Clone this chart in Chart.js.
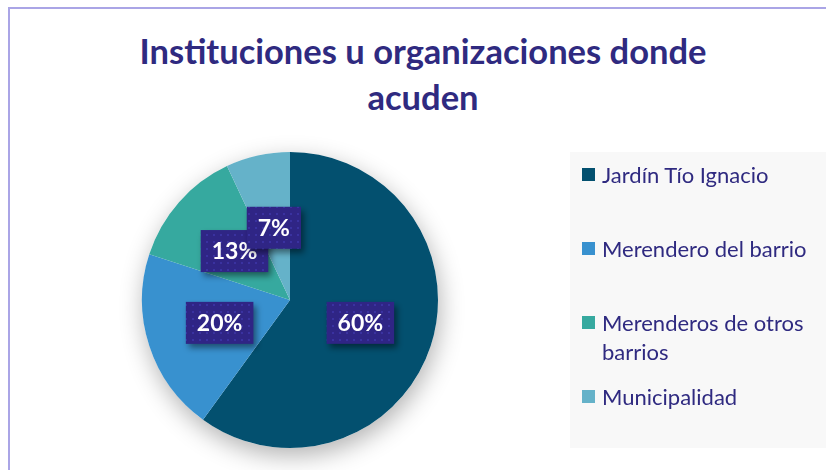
<!DOCTYPE html>
<html>
<head>
<meta charset="utf-8">
<script src="https://cdn.jsdelivr.net/npm/chart.js@4.4.1/dist/chart.umd.min.js"></script>
<style>
  html, body { margin: 0; padding: 0; background: #fff; }
  body { width: 826px; height: 470px; position: relative; overflow: hidden; font-family: Lato, "Open Sans", sans-serif; }
  .frame { position: absolute; left: 8px; top: 7px; width: 900px; height: 500px; border-left: 2px solid #aaa5e6; border-top: 2px solid #aaa5e6; }
  #chart { position: absolute; left: 0; top: 0; }
  .title { position: absolute; left: 20px; right: 0; top: 28px; text-align: center; font-weight: bold; font-size: 34.5px; line-height: 46px; color: #2f2a80; }
  .legend { position: absolute; left: 570px; top: 152px; width: 256px; height: 296px; background: #f8f8f8; }
  .legend .item { position: relative; height: 74px; padding-left: 32px; box-sizing: border-box; font-size: 22px; line-height: 29px; color: #2f2a80; padding-right: 4px; }
  .legend .item:first-child { margin-top: 8px; }
  .legend .box { position: absolute; left: 12px; top: 8px; width: 13px; height: 13px; }
</style>
</head>
<body>
<div class="frame"></div>
<div class="title">Instituciones u organizaciones donde<br>acuden</div>
<canvas id="chart" width="826" height="470"></canvas>
<div class="legend" id="legend"></div>
<script>
const categories = ['Jardín Tío Ignacio', 'Merendero del barrio', 'Merenderos de otros barrios', 'Municipalidad'];
const shares = [60, 20, 13, 7];
const sliceColors = ['#03506f', '#3891cf', '#36a99f', '#65b2c9'];

// shadow behind the whole pie
const pieShadow = {
  id: 'pieShadow',
  beforeDatasetsDraw(chart) {
    const arc = chart.getDatasetMeta(0).data[0];
    if (!arc) return;
    const ctx = chart.ctx;
    ctx.save();
    ctx.shadowColor = 'rgba(0,0,0,0.3)';
    ctx.shadowBlur = 24;
    ctx.shadowOffsetX = 2;
    ctx.shadowOffsetY = 8;
    ctx.fillStyle = '#fff';
    ctx.beginPath();
    ctx.arc(arc.x, arc.y, arc.outerRadius, 0, Math.PI * 2);
    ctx.fill();
    ctx.restore();
  }
};

// percent boxes on each slice
const sliceLabels = {
  id: 'sliceLabels',
  afterDatasetsDraw(chart) {
    const ctx = chart.ctx;
    const meta = chart.getDatasetMeta(0);
    const dots = document.createElement('canvas');
    dots.width = 7; dots.height = 7;
    const dctx = dots.getContext('2d');
    dctx.fillStyle = '#2f2585';
    dctx.fillRect(0, 0, 7, 7);
    dctx.fillStyle = '#3a32a0';
    dctx.fillRect(3, 3, 2, 2);
    const pattern = ctx.createPattern(dots, 'repeat');

    ctx.save();
    ctx.font = 'bold 23px Lato';
    ctx.textAlign = 'center';
    ctx.textBaseline = 'middle';
    meta.data.forEach((arc, i) => {
      const p = arc.tooltipPosition();
      const txt = shares[i] + '%';
      const w = ctx.measureText(txt).width + 22;
      const h = 42;
      ctx.save();
      ctx.shadowColor = 'rgba(0,0,0,0.45)';
      ctx.shadowBlur = 6;
      ctx.shadowOffsetX = 3;
      ctx.shadowOffsetY = 4;
      ctx.fillStyle = pattern;
      ctx.fillRect(p.x - w / 2, p.y - h / 2, w, h);
      ctx.restore();
      ctx.fillStyle = '#fff';
      ctx.fillText(txt, p.x, p.y + 1);
    });
    ctx.restore();
  }
};

const chart = new Chart(document.getElementById('chart'), {
  type: 'pie',
  data: {
    labels: categories,
    datasets: [{
      data: shares,
      backgroundColor: sliceColors,
      borderWidth: 0
    }]
  },
  options: {
    responsive: false,
    animation: false,
    layout: { padding: { left: 142, right: 388, top: 152, bottom: 22 } },
    plugins: {
      legend: { display: false },
      tooltip: { enabled: false }
    }
  },
  plugins: [pieShadow, sliceLabels]
});

const legendEl = document.getElementById('legend');
categories.forEach((name, i) => {
  const item = document.createElement('div');
  item.className = 'item';
  item.innerHTML = '<span class="box" style="background:' + sliceColors[i] + '"></span>' + name;
  legendEl.appendChild(item);
});
</script>
</body>
</html>
